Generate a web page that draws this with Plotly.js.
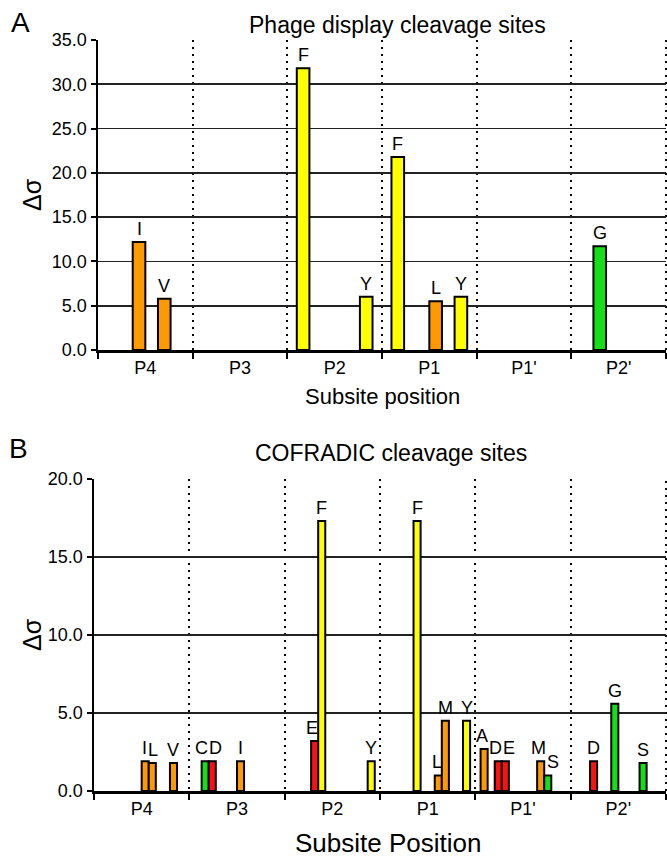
<!DOCTYPE html>
<html>
<head>
<meta charset="utf-8">
<script src="https://cdn.plot.ly/plotly-3.0.1.min.js"></script>
<style>
  html, body { margin: 0; padding: 0; background: #fff; overflow: hidden; }
  #chartA { width: 667px; height: 420px; }
  #chartB { width: 667px; height: 437px; }
</style>
</head>
<body>
<div id="chartA"></div>
<div id="chartB"></div>
<script>
// ---------------- DATA ----------------
const subsites = ["P4", "P3", "P2", "P1", "P1'", "P2'"];

// Panel A: Phage display cleavage sites (Δσ per residue and subsite)
const phageResidues = ["F", "G", "I", "L", "V", "Y"];
const phageF = [null, null, 31.8, 21.8, null, null];
const phageG = [null, null, null, null, null, 11.7];
const phageI = [12.2, null, null, null, null, null];
const phageL = [null, null, null, 5.5, null, null];
const phageV = [5.8, null, null, null, null, null];
const phageY = [null, null, 6.0, 6.0, null, null];

// Panel B: COFRADIC cleavage sites
const cofResidues = ["A", "C", "D", "E", "F", "G", "I", "L", "M", "S", "V", "Y"];
const cofA = [null, null, null, null, 2.7, null];
const cofC = [null, 1.9, null, null, null, null];
const cofD = [null, 1.9, null, null, 1.9, 1.9];
const cofE = [null, null, 3.2, null, 1.9, null];
const cofF = [null, null, 17.3, 17.3, null, null];
const cofG = [null, null, null, null, null, 5.6];
const cofI = [1.9, 1.9, null, null, null, null];
const cofL = [1.8, null, null, 1.0, null, null];
const cofM = [null, null, null, 4.5, 1.9, null];
const cofS = [null, null, null, null, 1.0, 1.8];
const cofV = [1.8, null, null, null, null, null];
const cofY = [null, null, 1.9, 4.5, null, null];

const phageSeries = [phageF, phageG, phageI, phageL, phageV, phageY];
const cofSeries = [cofA, cofC, cofD, cofE, cofF, cofG, cofI, cofL, cofM, cofS, cofV, cofY];

// ---------------- STYLE ----------------
const FONT = "Liberation Sans, Arial, Helvetica, sans-serif";
const residueColor = {
  A: "#FF9900", I: "#FF9900", L: "#FF9900", M: "#FF9900", V: "#FF9900",
  F: "#FFFF00", Y: "#FFFF00",
  C: "#14E014", G: "#14E014", S: "#14E014",
  D: "#FF1010", E: "#FF1010"
};
// approximate glyph advance widths (em) for label spacing
const glyphEm = { A: .667, C: .722, D: .722, E: .667, F: .611, G: .778, I: .278,
                  L: .556, M: .833, S: .667, V: .667, Y: .667 };
const W = 667;
const LABEL_SIZE = 18;
const LABEL_GAP = 2;

function buildTraces(residues, series) {
  return residues.map((res, k) => ({
    type: "bar",
    name: res,
    x: subsites,
    y: series[k],
    marker: { color: residueColor[res], line: { color: "#000", width: 2 } },
    hoverinfo: "skip"
  }));
}

// residue letters above bars, placed at each bar's group slot and nudged apart
function buildLabels(residues, series, m, H, bargap, yMax) {
  const pw = W - m.l - m.r, ph = H - m.t - m.b;
  const catPx = pw / subsites.length;
  const N = residues.length;
  const slot = catPx * (1 - bargap) / N;
  const pxPerUnit = ph / yMax;
  const textH = LABEL_SIZE * 1.15;
  const out = [];
  subsites.forEach((cat, i) => {
    const labs = [];
    residues.forEach((res, k) => {
      const v = series[k][i];
      if (v === null) return;
      labs.push({ res, k, v, base: (k - (N - 1) / 2) * slot, off: 0,
                  w: glyphEm[res] * LABEL_SIZE,
                  bot: v * pxPerUnit + LABEL_GAP });
    });
    // keep letters clear of a taller neighbouring bar
    labs.forEach(L => {
      [-1, 1].forEach(dir => {
        const nk = L.k + dir;
        if (nk < 0 || nk >= N) return;
        const nv = series[nk][i];
        if (nv === null || nv * pxPerUnit <= L.bot) return;
        const edge = dir * (slot / 2 + 1);
        const need = edge - dir * (L.w / 2 + 1);
        if (dir > 0) L.off = Math.min(L.off, need);
        else L.off = Math.max(L.off, need);
      });
    });
    // push apart letters that would collide with each other
    for (let it = 0; it < 20; it++) {
      for (let a = 0; a < labs.length - 1; a++) {
        const A = labs[a], B = labs[a + 1];
        if (Math.abs(A.bot - B.bot) >= textH) continue;
        const need = (A.w + B.w) / 2 + 1;
        const sep = (B.base + B.off) - (A.base + A.off);
        if (sep < need) { const d = (need - sep) / 2; A.off -= d; B.off += d; }
      }
    }
    labs.forEach(L => out.push({
      text: L.res, showarrow: false, xref: "x", yref: "y",
      x: cat, y: L.v, xanchor: "center", yanchor: "bottom",
      xshift: L.base + L.off, yshift: LABEL_GAP, borderpad: 0,
      font: { family: FONT, size: LABEL_SIZE, color: "#000" }
    }));
  });
  return out;
}

function ann(text, px, py, size, m, H, extra) {
  const pw = W - m.l - m.r, ph = H - m.t - m.b;
  return Object.assign({
    text: text, showarrow: false,
    xref: "paper", yref: "paper",
    x: (px - m.l) / pw, y: (H - m.b - py) / ph,
    xanchor: "center", yanchor: "middle",
    font: { family: FONT, size: size, color: "#000" }
  }, extra || {});
}

function xAxis() {
  return {
    type: "category", range: [-0.5, 5.5],
    tickson: "boundaries", ticks: "outside", ticklen: 6, tickwidth: 2, tickcolor: "#000",
    showline: true, linecolor: "#000", linewidth: 2.5,
    showgrid: true, gridcolor: "#000", gridwidth: 2, griddash: "2px,5px",
    tickfont: { family: FONT, size: 18, color: "#000" },
    fixedrange: true
  };
}
function yAxis(maxV) {
  return {
    range: [0, maxV], dtick: 5, tick0: 0, tickformat: ".1f",
    ticks: "outside", ticklen: 5, tickwidth: 2, tickcolor: "#000",
    showline: true, linecolor: "#000", linewidth: 2.5,
    showgrid: true, gridcolor: "#222", gridwidth: 1.6, zeroline: false,
    tickfont: { family: FONT, size: 18, color: "#000" },
    fixedrange: true
  };
}
const rightDivider = {
  type: "line", xref: "paper", yref: "paper", x0: 1, x1: 1, y0: 0, y1: 1,
  line: { color: "#000", width: 2, dash: "2px,5px" }, layer: "below"
};

// ---------------- PANEL A ----------------
const HA = 420, mA = { l: 98, r: 1, t: 40, b: 70, pad: 0 }, gapA = 0.2;
Plotly.newPlot("chartA", buildTraces(phageResidues, phageSeries), {
  width: W, height: HA, margin: mA,
  paper_bgcolor: "#fff", plot_bgcolor: "#fff",
  barmode: "group", bargap: gapA, bargroupgap: 0,
  showlegend: false,
  font: { family: FONT, color: "#000" },
  xaxis: xAxis(), yaxis: yAxis(35),
  shapes: [rightDivider],
  annotations: [
    ann("A", 20, 23, 28, mA, HA),
    ann("Phage display cleavage sites", 397, 25, 23, mA, HA),
    ann("Δσ", 32, 195, 25, mA, HA, { textangle: -90 }),
    ann("Subsite position", 382, 396, 22, mA, HA)
  ].concat(buildLabels(phageResidues, phageSeries, mA, HA, gapA, 35))
}, { displayModeBar: false, staticPlot: true });

// ---------------- PANEL B ----------------
const HB = 437, mB = { l: 94, r: 1, t: 59, b: 66, pad: 0 }, gapB = 0.11;
Plotly.newPlot("chartB", buildTraces(cofResidues, cofSeries), {
  width: W, height: HB, margin: mB,
  paper_bgcolor: "#fff", plot_bgcolor: "#fff",
  barmode: "group", bargap: gapB, bargroupgap: 0,
  showlegend: false,
  font: { family: FONT, color: "#000" },
  xaxis: xAxis(), yaxis: yAxis(20),
  shapes: [rightDivider],
  annotations: [
    ann("B", 18, 29, 28, mB, HB),
    ann("COFRADIC cleavage sites", 391, 33, 23, mB, HB),
    ann("Δσ", 32, 215, 25, mB, HB, { textangle: -90 }),
    ann("Subsite Position", 388, 423, 26, mB, HB)
  ].concat(buildLabels(cofResidues, cofSeries, mB, HB, gapB, 20))
}, { displayModeBar: false, staticPlot: true });
</script>
</body>
</html>
